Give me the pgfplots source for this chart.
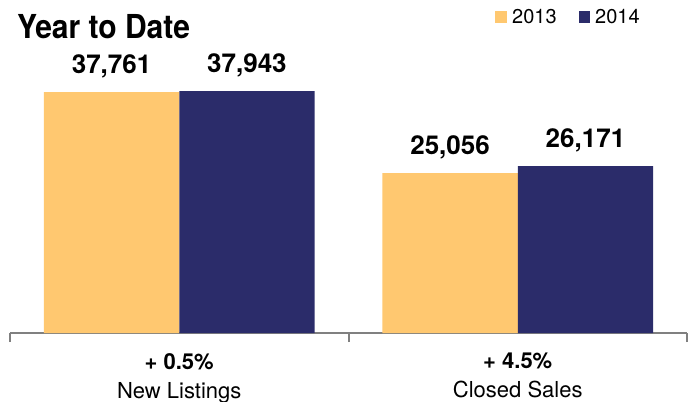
\documentclass[border=0pt]{standalone}
\usepackage{pgfplots}
\pgfplotsset{compat=1.18}
\usepackage{fontspec}
\setmainfont{TeX Gyre Heros}
\definecolor{yr13}{RGB}{255,200,112}
\definecolor{yr14}{RGB}{43,44,106}
\definecolor{axgray}{RGB}{128,128,128}
\begin{document}
\begin{tikzpicture}
\useasboundingbox (-10pt,-69pt) rectangle (687pt,333pt);
\begin{axis}[
    at={(0,0)}, anchor=south west,
    scale only axis,
    width=677pt, height=255.1pt,
    xmin=-0.5, xmax=1.5,
    ymin=0, ymax=40000,
    clip=false,
    axis x line*=bottom,
    axis y line=none,
    x axis line style={axgray, line width=2pt},
    xtick={-0.5,0.5,1.5},
    xticklabels={},
    xtick pos=bottom,
    tick align=outside,
    major tick length=9pt,
    every tick/.style={axgray, line width=2pt},
    extra x ticks={0,1},
    extra x tick labels={{\textbf{+ 0.5\%}\\New Listings},{\textbf{+ 4.5\%}\\Closed Sales}},
    extra x tick style={major tick length=0pt,
        tick label style={font=\fontsize{22}{29}\selectfont, align=center,
        inner sep=0pt, anchor=north, yshift=-20pt}},
    /pgf/number format/assume math mode=true,
    nodes near coords,
    every node near coord/.append style={font=\fontsize{26}{30}\selectfont\bfseries,
        anchor=base, inner sep=0pt, yshift=18.5pt},
    ybar, bar width=0.4,
]
\addplot[fill=yr13, draw=none, bar shift=-0.2] coordinates {(0,37761) (1,25056)};
\addplot[fill=yr14, draw=none, bar shift=0.2] coordinates {(0,37943) (1,26171)};
\end{axis}
\node[anchor=base west, inner sep=0pt] at (7pt,294pt)
    {\scalebox{0.91}[1]{\fontsize{33}{36}\selectfont\bfseries Year to Date}};
\fill[yr13] (485pt,310pt) rectangle (497pt,322pt);
\node[anchor=base west, inner sep=0pt, font=\fontsize{20}{24}\selectfont] at (502pt,309pt) {2013};
\fill[yr14] (569pt,310pt) rectangle (580pt,322pt);
\node[anchor=base west, inner sep=0pt, font=\fontsize{20}{24}\selectfont] at (585pt,309pt) {2014};
\end{tikzpicture}
\end{document}
